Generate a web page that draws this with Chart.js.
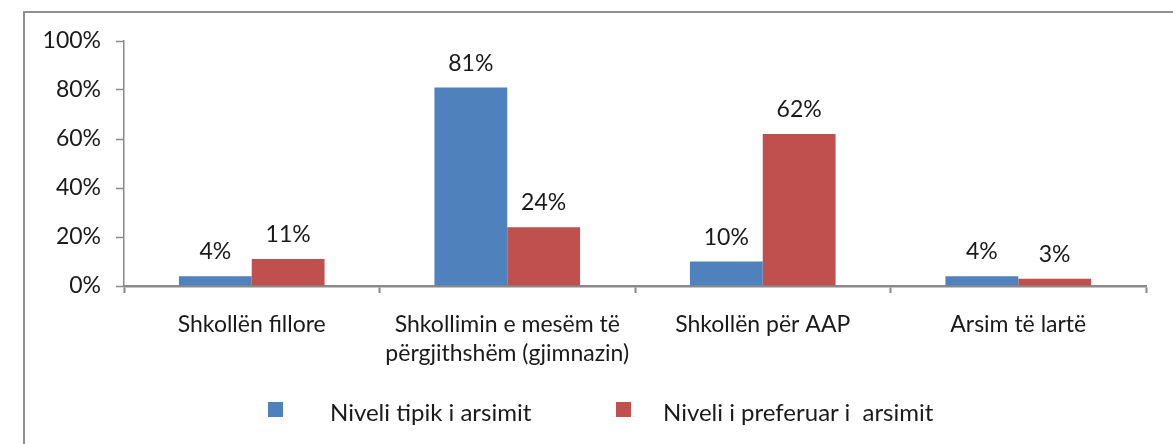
<!DOCTYPE html>
<html>
<head>
<meta charset="utf-8">
<script src="https://cdn.jsdelivr.net/npm/chart.js@4.4.1/dist/chart.umd.min.js"></script>
<style>
    html, body { margin: 0; padding: 0; background: #ffffff; }
    #wrap { position: relative; width: 1173px; height: 444px; overflow: hidden; }
    #frame {
        position: absolute; left: 23px; top: 11px; width: 1200px; height: 500px;
        border-left: 2px solid #8e8e8e; border-top: 2px solid #8e8e8e;
    }
    #chartBox { position: absolute; left: 0; top: 0; width: 1173px; height: 444px; }
    .leg-box { position: absolute; width: 15px; height: 15px; top: 402px; }
    .leg-text {
        position: absolute; top: 397px; font-family: Lato, "Open Sans", sans-serif;
        font-size: 24px; line-height: 30px; color: #1a1a1a; white-space: pre;
    }
</style>
</head>
<body>
<div id="wrap">
    <div id="frame"></div>
    <div id="chartBox"><canvas id="eduChart"></canvas></div>
    <div class="leg-box" style="left:268px; background:#4f81bd;"></div>
    <div class="leg-text" style="left:330px;">Niveli tipik i arsimit</div>
    <div class="leg-box" style="left:616px; background:#c0504d;"></div>
    <div class="leg-text" style="left:663px;">Niveli i preferuar i  arsimit</div>
</div>
<script>
const categories = [
    "Shkollën fillore",
    ["Shkollimin e mesëm të", "përgjithshëm (gjimnazin)"],
    "Shkollën për AAP",
    "Arsim të lartë"
];
const typicalLevel = [4, 81, 10, 4];
const preferredLevel = [11, 24, 62, 3];
const seriesNames = ["Niveli tipik i arsimit", "Niveli i preferuar i  arsimit"];
const yTicks = [0, 20, 40, 60, 80, 100];

const textColor = "#1a1a1a";
const axisColor = "#8a8a8a";
const fontFamily = "Lato, 'Open Sans', sans-serif";

// value labels above each bar
const barLabels = {
    id: "barLabels",
    afterDatasetsDraw(chart) {
        const ctx = chart.ctx;
        ctx.save();
        ctx.font = "23px " + fontFamily;
        ctx.fillStyle = textColor;
        ctx.textAlign = "center";
        ctx.textBaseline = "alphabetic";
        chart.data.datasets.forEach(function (ds, i) {
            chart.getDatasetMeta(i).data.forEach(function (bar, j) {
                ctx.fillText(ds.data[j] + "%", bar.x, bar.y - 17);
            });
        });
        ctx.restore();
    }
};

new Chart(document.getElementById("eduChart"), {
    type: "bar",
    data: {
        labels: categories,
        datasets: [
            {
                label: seriesNames[0],
                data: typicalLevel,
                backgroundColor: "#4f81bd",
                categoryPercentage: 0.57,
                barPercentage: 1.0
            },
            {
                label: seriesNames[1],
                data: preferredLevel,
                backgroundColor: "#c0504d",
                categoryPercentage: 0.57,
                barPercentage: 1.0
            }
        ]
    },
    options: {
        responsive: true,
        maintainAspectRatio: false,
        animation: false,
        layout: { padding: { left: 0, top: 41, right: 27, bottom: 0 } },
        plugins: {
            legend: { display: false },
            tooltip: { enabled: false }
        },
        scales: {
            x: {
                afterFit: function (scale) { scale.height = 158; },
                grid: {
                    offset: true,
                    drawOnChartArea: false,
                    drawTicks: true,
                    tickLength: 7,
                    tickWidth: 2,
                    tickColor: axisColor
                },
                border: { display: true, color: axisColor, width: 2.5 },
                ticks: {
                    color: textColor,
                    padding: 18,
                    maxRotation: 0,
                    autoSkip: false,
                    font: { family: fontFamily, size: 23, lineHeight: 1.22 }
                }
            },
            y: {
                min: 0,
                max: 100,
                afterFit: function (scale) { scale.width = 124; },
                afterBuildTicks: function (scale) {
                    scale.ticks = yTicks.map(function (v) { return { value: v }; });
                },
                grid: {
                    drawOnChartArea: false,
                    drawTicks: true,
                    tickLength: 8,
                    tickWidth: 1.5,
                    tickColor: axisColor
                },
                border: { display: true, color: axisColor, width: 1.5 },
                ticks: {
                    color: textColor,
                    padding: 15,
                    font: { family: fontFamily, size: 23 },
                    callback: function (value) { return value + "%"; }
                }
            }
        }
    },
    plugins: [barLabels]
});
</script>
</body>
</html>
